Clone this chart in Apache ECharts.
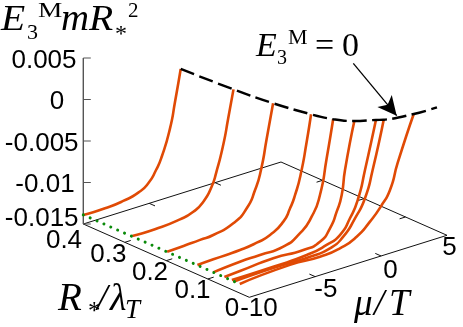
<!DOCTYPE html>
<html>
<head>
<meta charset="utf-8">
<style>
  html, body { margin: 0; padding: 0; background: #fff; }
  #chart { width: 463px; height: 327px; }
</style>
<script src="https://cdn.jsdelivr.net/npm/echarts@6/dist/echarts.min.js"></script>
</head>
<body>
<div id="chart"></div>
<script>
// values: [mu/T, E3M m R*^2] along each curve
const curveR = [0.4, 0.282, 0.198, 0.125, 0.087, 0.06, 0.042, 0.035, 0.023];
const curve1 = [[-10, -0.01392], [-8.35, -0.01393], [-6.97, -0.01373], [-5.83, -0.0133], [-5.07, -0.01255], [-4.48, -0.01124], [-4.05, -0.00986], [-3.42, -0.00675], [-3.04, -0.00373], [-2.61, 0]];
const curve2 = [[-10, -0.01384], [-8.28, -0.01389], [-6.38, -0.01364], [-5.37, -0.01322], [-4.61, -0.0124], [-3.98, -0.0109], [-3.62, -0.00931], [-3.1, -0.00631], [-2.72, -0.00329], [-2.32, 0]];
const curve3 = [[-10, -0.01388], [-9.02, -0.01383], [-7.5, -0.0137], [-6.5, -0.01361], [-4.98, -0.01295], [-3.96, -0.01166], [-3.33, -0.00977], [-2.88, -0.00758], [-2.44, -0.00398], [-1.96, 0]];
const curve4 = [[-10, -0.01387], [-8.79, -0.01378], [-6.77, -0.01367], [-5.5, -0.01342], [-4.49, -0.013], [-3.48, -0.01189], [-2.97, -0.01054], [-2.59, -0.00912], [-2.16, -0.00681], [-1.71, -0.00314], [-1.38, 0]];
const curve5 = [[-10, -0.01392], [-7.97, -0.01364], [-6.45, -0.01359], [-4.68, -0.01347], [-3.41, -0.01248], [-2.53, -0.01093], [-1.9, -0.00863], [-1.39, -0.00446], [-0.9, 0]];
const curve6 = [[-10, -0.01388], [-8.82, -0.01375], [-6.29, -0.01347], [-4.01, -0.01361], [-2.75, -0.01324], [-1.99, -0.012], [-1.48, -0.01025], [-1.1, -0.00843], [-0.85, -0.00554], [-0.14, 0]];
const curve7 = [[-10, -0.01384], [-6.86, -0.01381], [-4.32, -0.01366], [-2.81, -0.0132], [-1.8, -0.01251], [-1.04, -0.01087], [-0.41, -0.00877], [0.1, -0.00561], [0.93, 0]];
const curve8 = [[-10, -0.01384], [-7.1, -0.01369], [-4.29, -0.01372], [-2.78, -0.01347], [-1.77, -0.01257], [-0.88, -0.0108], [-0.12, -0.00876], [0.46, -0.00564], [1.3, 0]];
const curve9 = [[-10, -0.0139], [-6.19, -0.0135], [-3.91, -0.01365], [-2.4, -0.01339], [-1.13, -0.01263], [-0.12, -0.01131], [0.71, -0.00988], [1.4, -0.00825], [1.98, -0.00529], [3.2, 0]];
const curves = [curve1, curve2, curve3, curve4, curve5, curve6, curve7, curve8, curve9];

// E3M = 0 boundary: [mu/T, R*/lambda_T]
const zeroLine = [[-2.61, 0.4], [-2.32, 0.282], [-1.96, 0.198], [-1.38, 0.125], [-0.9, 0.087], [-0.14, 0.06], [0.93, 0.042], [1.3, 0.035], [3.2, 0.023], [4.9, 0.021]];
// mu = -10 dotted line: [R*/lambda_T, E]
const dottedLine = [[0.4, -0.0139], [0.022, -0.0139]];

const muTicks = [-10, -5, 0, 5];
const rTicks = [0, 0.1, 0.2, 0.3, 0.4];
const eTicks = [0.005, 0, -0.005, -0.01, -0.015];

// projection of the gnuplot-style box on to the page
const origin = [249.3, 297.3];
const muStep = [13.18, -4.133];
const rStep = [-415, -183.25];
const eStep = -8300;

function project(mu, r, e) {
  const m = mu + 10;
  return [
    origin[0] + m * muStep[0] + r * rStep[0],
    origin[1] + m * muStep[1] + r * rStep[1] + (e + 0.015) * eStep
  ];
}

function lineSeries(points, color, width, extra) {
  return Object.assign({
    type: 'line',
    data: points,
    symbol: 'none',
    silent: true,
    animation: false,
    lineStyle: { color: color, width: width }
  }, extra || {});
}

const series = [];

// floor of the box
const floor = [[-10, 0.4], [-10, 0], [5, 0], [5, 0.4], [-10, 0.4]];
series.push(lineSeries(floor.map(p => project(p[0], p[1], -0.015)), '#111', 1));

// floor ticks
const muTickLen = 0.45;
const rTickLen = 0.014;
muTicks.slice(1, 3).forEach(mu => {
  series.push(lineSeries([project(mu, 0, -0.015), project(mu, rTickLen, -0.015)], '#111', 1));
  series.push(lineSeries([project(mu, 0.4, -0.015), project(mu, 0.4 - rTickLen, -0.015)], '#111', 1));
});
rTicks.slice(1, 4).forEach(r => {
  series.push(lineSeries([project(-10, r, -0.015), project(-10 + muTickLen, r, -0.015)], '#111', 1));
  series.push(lineSeries([project(5, r, -0.015), project(5 - muTickLen, r, -0.015)], '#111', 1));
});

// vertical axis
series.push(lineSeries([project(-10, 0.4, -0.015), project(-10, 0.4, 0.005)], '#555', 1.4));
eTicks.forEach(e => {
  const p = project(-10, 0.4, e);
  series.push(lineSeries([p, [p[0] + 7.5, p[1]]], '#555', 1));
});

// curves
curves.forEach((c, i) => {
  series.push(lineSeries(c.map(p => project(p[0], curveR[i], p[1])), '#E04A05', 2.6, { smooth: 0.6, z: 3 }));
});

// E3M = 0 dashed line
series.push(lineSeries(zeroLine.map(p => project(p[0], p[1], 0)), '#000', 2.3, {
  smooth: 0.4,
  z: 4,
  lineStyle: { color: '#000', width: 2.4, type: [14.5, 5.5] }
}));

// mu = -10 dotted line
series.push(lineSeries(dottedLine.map(p => project(-10, p[0], p[1])), '#0A8A0A', 3, {
  z: 5,
  lineStyle: { color: '#0A8A0A', width: 3, type: [0.01, 7.5], cap: 'round' }
}));

// arrow to the dashed line
const arrowFrom = [353.3, 63.3];
const arrowTo = [396.7, 115.7];
series.push(lineSeries([], '#000', 1, {
  z: 6,
  markLine: {
    silent: true,
    animation: false,
    symbol: ['none', 'arrow'],
    symbolSize: [14, 19],
    label: { show: false },
    lineStyle: { color: '#000', width: 1.3, type: 'solid' },
    data: [[{ coord: arrowFrom }, { coord: arrowTo }]]
  }
}));

// text helpers, y is the baseline
const SERIF = '"Liberation Serif"';
const SANS = '"Liberation Sans"';
function txt(text, x, base, size, family, italic, stretch, align) {
  return {
    type: 'text',
    x: x,
    y: base - 0.34 * size,
    scaleX: stretch || 1,
    silent: true,
    style: {
      text: text,
      fill: '#000',
      font: (italic ? 'italic ' : '') + size + 'px ' + family,
      align: align || 'left',
      verticalAlign: 'middle'
    }
  };
}
function tickLabel(text, cx, cy) {
  return txt(text, cx, cy + 9.2, 26, SANS, false, 1, 'center');
}

const graphics = [
  // vertical axis labels
  tickLabel('0.005', 44, 60.7),
  tickLabel('0', 57, 101),
  tickLabel('-0.005', 41.7, 143.3),
  tickLabel('-0.01', 45, 184.7),
  tickLabel('-0.015', 41.7, 218),
  // R*/lambda_T labels
  tickLabel('0.4', 64, 240),
  tickLabel('0.3', 108.3, 254.2),
  tickLabel('0.2', 150, 272),
  tickLabel('0.1', 192.5, 290.8),
  tickLabel('0', 232, 308.7),
  // mu/T labels
  tickLabel('-10', 259, 308.7),
  tickLabel('-5', 325.8, 289),
  tickLabel('0', 390.5, 270),
  tickLabel('5', 449.5, 247),
  // title
  txt('E', 1, 33, 36, SERIF, true, 1.1),
  txt('3', 27, 41, 22, SERIF, false),
  txt('M', 38, 18.5, 21, SERIF, false, 1.3),
  txt('m', 61, 33, 37, SERIF, true, 1.05),
  txt('R', 89, 33, 36, SERIF, true, 1.1),
  txt('*', 115, 43, 24, SERIF, false),
  txt('2', 128, 18.5, 21, SERIF, false),
  // E3M = 0 note
  txt('E', 256, 59, 34, SERIF, true),
  txt('3', 277, 66, 20, SERIF, false),
  txt('M', 288, 46, 20, SERIF, false, 1.1),
  txt('=', 315, 59, 34, SERIF, false),
  txt('0', 342, 59, 34, SERIF, false),
  // bottom labels
  txt('R', 58, 313, 39, SERIF, true),
  txt('*', 88, 321, 25, SERIF, false),
  txt('/', 97, 313, 38, SERIF, true),
  txt('\u03BB', 110, 313, 38, SERIF, true),
  txt('T', 125, 319.7, 27, SERIF, true),
  txt('\u03BC', 354, 318, 37, SERIF, true),
  txt('/', 374, 318, 37, SERIF, true),
  txt('T', 389, 318, 37, SERIF, true)
];

const chart = echarts.init(document.getElementById('chart'));
chart.setOption({
  animation: false,
  backgroundColor: '#fff',
  grid: { left: 0, right: 0, top: 0, bottom: 0 },
  xAxis: { type: 'value', min: 0, max: 463, show: false },
  yAxis: { type: 'value', min: 0, max: 327, inverse: true, show: false },
  series: series,
  graphic: graphics
});
</script>
</body>
</html>
